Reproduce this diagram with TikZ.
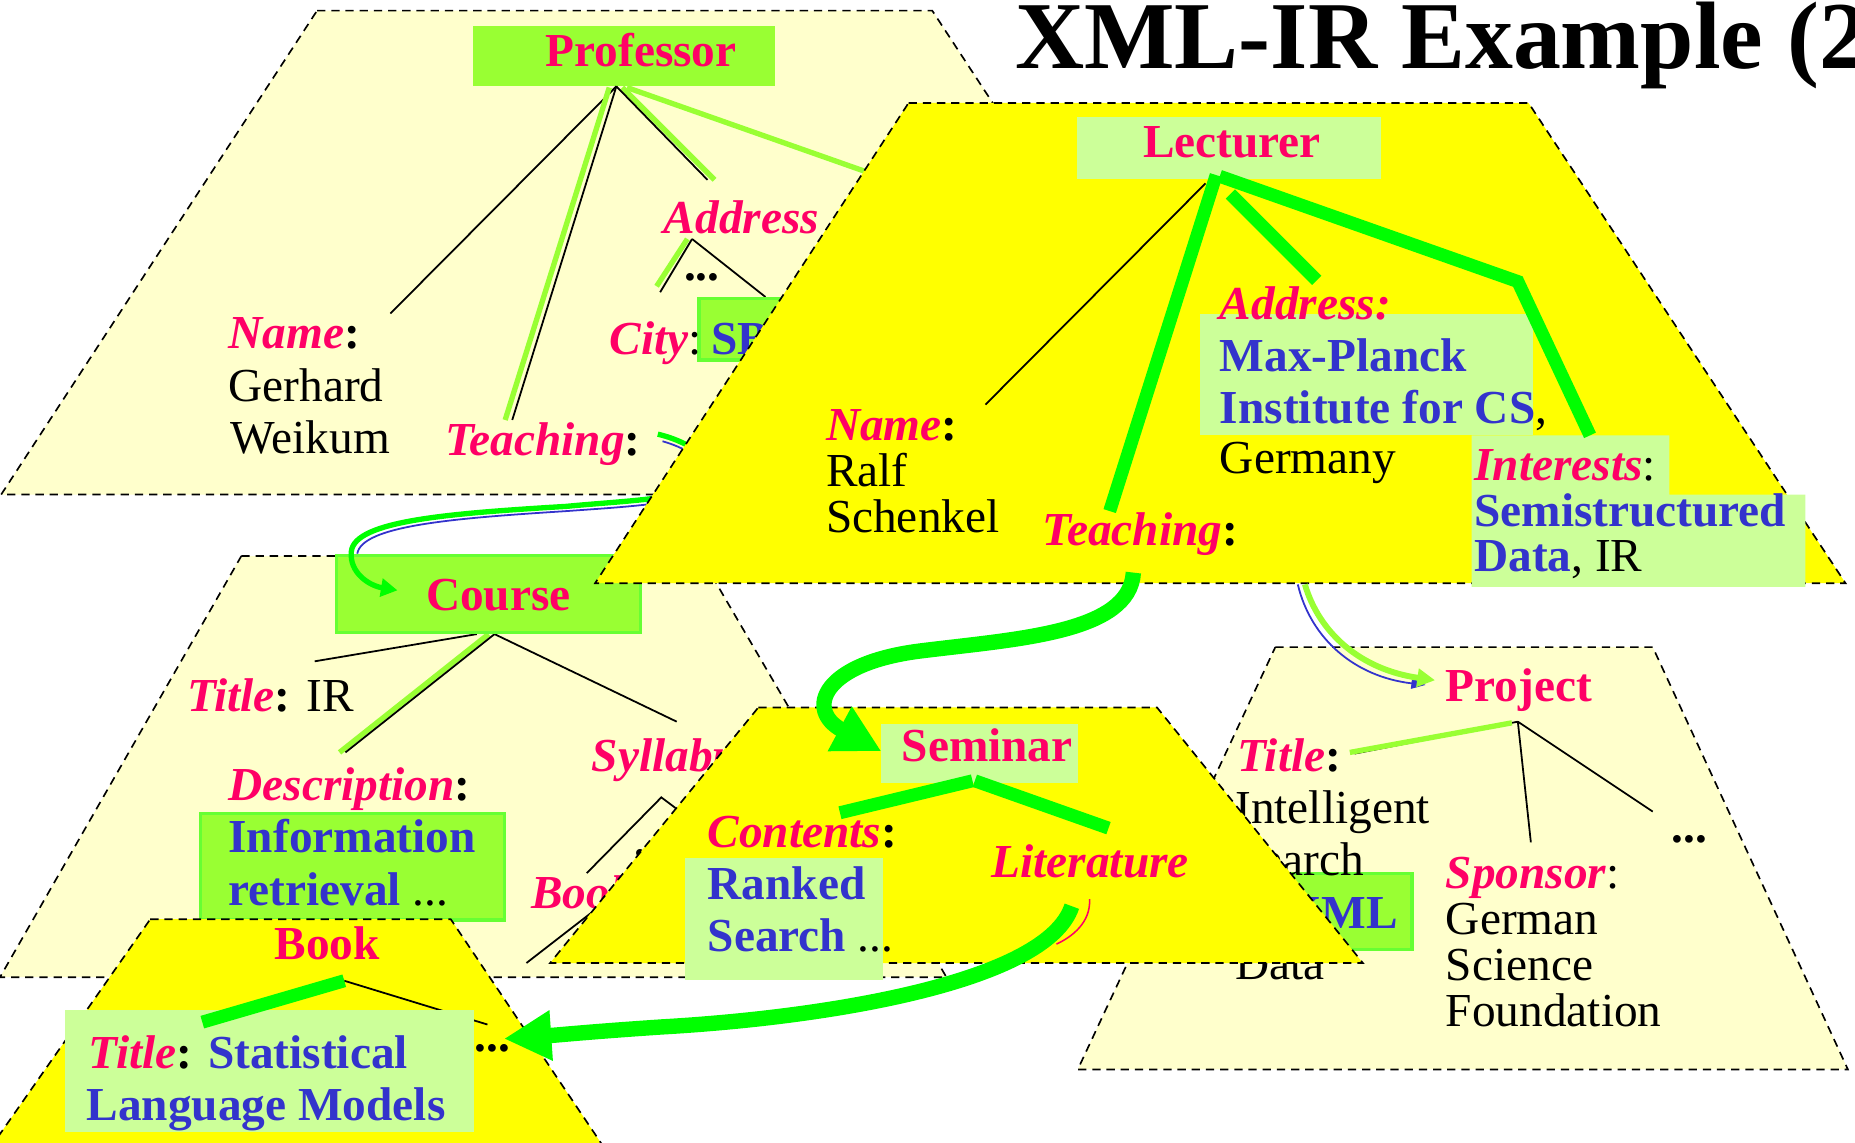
\documentclass[tikz,border=0pt]{standalone}
\usepackage{fontspec}
\setmainfont{Liberation Serif}
\usetikzlibrary{arrows.meta}

\definecolor{palefill}{HTML}{FFFFCC}
\definecolor{brightfill}{HTML}{FFFF00}
\definecolor{limefill}{HTML}{99FF33}
\definecolor{limeedge}{HTML}{66FF33}
\definecolor{vivid}{HTML}{00FF00}
\definecolor{tagred}{HTML}{FF0066}
\definecolor{valblue}{HTML}{3333CC}
\definecolor{meshfill}{HTML}{CCFF99}

\newcommand\tagtxt[1]{\textcolor{tagred}{\bfseries\itshape #1}}
\newcommand\valtxt[1]{\textcolor{valblue}{\bfseries #1}}
\newcommand\nodetitle[1]{\textcolor{tagred}{\bfseries #1}}
\newcommand\colonmark{\textup{\textbf{:}}}

\begin{document}
\begin{tikzpicture}[x=1pt,y=-1pt,
  every node/.style={inner sep=0pt},
  zone/.style={draw=black, line width=1.4pt, dash pattern=on 7pt off 5pt},
  palezone/.style={zone, fill=palefill},
  brightzone/.style={zone, fill=brightfill},
  txt/.style={anchor=base west, font=\fontsize{40}{44}\selectfont},
  limebox/.style={fill=limefill, draw=limeedge, line width=3pt},
  plainlime/.style={fill=limefill},
  meshbox/.style={fill=meshfill},
  thinline/.style={draw=black, line width=1.5pt},
  limeline/.style={draw=limefill, line width=4.5pt},
  vividline/.style={draw=vivid, line width=11pt},
  bigarrow/.style={draw=vivid, line width=13pt, -{Triangle[length=40pt,width=40pt]}},
]
\useasboundingbox (0,0) rectangle (1568,966);
\clip (0,0) rectangle (1568,966);
\fill[white] (0,0) rectangle (1568,966);

% ---------------- Professor ----------------
\draw[palezone] (268,9) -- (788,9) -- (1056,418) -- (1,418) -- cycle;
\node[plainlime, minimum width=255pt, minimum height=51pt] (profbox) at (527.5,47.5) {};
\coordinate (proot) at (521,73);
\coordinate (pnameend) at (330,265);
\coordinate (pteachend) at (433,355);
\coordinate (paddrend) at (598,152);
\coordinate (pfar) at (760,155);
\draw[thinline] (proot) -- (pnameend);
\draw[limeline] (515,74) -- (427,355);
\draw[thinline] (proot) -- (pteachend);
\draw[limeline] (526,74) -- (604,152);
\draw[thinline] (proot) -- (paddrend);
\draw[limeline] (530,74) -- (pfar);
\coordinate (psub) at (585,202);
\draw[limeline] (581,202) -- (555,242);
\draw[thinline] (psub) -- (558,247);
\draw[thinline] (psub) -- (647,251);
\node[limebox, minimum width=70pt, minimum height=52pt] (citybox) at (626,278.5) {};

\node[txt] (profname) at (461,56) {\nodetitle{Professor}};
\node[txt] (pname) at (193,295) {\tagtxt{Name}\colonmark};
\node[txt] (pname1) at (193,339) {Gerhard};
\node[txt] (pname2) at (195,383) {Weikum};
\node[txt] (pteach) at (376,385) {\tagtxt{Teaching}\colonmark};
\node[txt] (paddr) at (561,197) {\tagtxt{Address}};
\node[txt] (pdots) at (578,237) {\textbf{...}};
\node[txt] (pcity) at (515,300) {\tagtxt{City}:};
\node[txt] (pcityval) at (601,300) {\valtxt{SB}};

% ---------------- Course ----------------
\draw[palezone] (204,470) -- (592,470) -- (800,826) -- (0,826) -- cycle;
\coordinate (croot) at (418,536);
\draw[thinline] (403,536) -- (266,559);
\draw[limeline] (413,536) -- (287,636);
\draw[thinline] (croot) -- (292,636);
\draw[thinline] (croot) -- (572,610);
\draw[thinline] (496,738) -- (559,674) -- (571,683);
\draw[thinline] (445,814) -- (525,752);
\node[limebox, minimum width=257pt, minimum height=65pt] (coursebox) at (413,502) {};
\node[limebox, minimum width=257pt, minimum height=90pt] (descbox) at (298,732.5) {};

\node[txt] (coursename) at (360,516) {\nodetitle{Course}};
\node[txt] (ctitle) at (158,601) {\tagtxt{Title}\colonmark{} IR};
\node[txt] (csyll) at (500,652) {\tagtxt{Syllabus}};
\node[txt] (cdesc) at (193,677) {\tagtxt{Description}\colonmark};
\node[txt] (cdesc1) at (193,721) {\valtxt{Information}};
\node[txt] (cdesc2) at (193,765) {\valtxt{retrieval} ...};
\node[txt] (cbook) at (449,768) {\tagtxt{Book}};
\node[txt] (cdots) at (536,724) {\textbf{...}};

% Teaching of the professor -> Course
\draw[draw=valblue, line width=1.5pt]
  (560,373) .. controls (582,379) and (612,396) .. (592,416)
  .. controls (577,426) and (520,429) .. (479,432)
  .. controls (385,438) and (306,444) .. (302,468);
\draw[draw=vivid, line width=4.5pt, -{Triangle[length=14pt,width=15pt]}]
  (556,367) .. controls (578,372) and (616,390) .. (590,412)
  .. controls (575,422) and (520,424) .. (479,428)
  .. controls (380,434) and (300,440) .. (297,466)
  .. controls (295,484) and (312,495) .. (336,499);

% ---------------- Lecturer ----------------
\draw[brightzone] (768,87) -- (1292,87) -- (1560,493) -- (503,493) -- cycle;
\node[meshbox, minimum width=257pt, minimum height=52pt] (lectbox) at (1038.5,125) {};
\node[meshbox, minimum width=282pt, minimum height=103pt] (laddrbox) at (1155,316.5) {};
\fill[meshfill] (1244,368) -- (1411,368) -- (1411,418) -- (1526,418) -- (1526,496) -- (1244,496) -- cycle;
\coordinate (lroot) at (1028,148);
\draw[thinline] (1019,155) -- (833,342);
\draw[vividline] (lroot) -- (938,432);
\draw[vividline] (1040,164) -- (1113,237);
\draw[vividline, line join=miter] (1031,149) -- (1283,238) -- (1344,368);

\node[txt] (lectname) at (966,133) {\nodetitle{Lecturer}};
\node[txt] (lname) at (698,372) {\tagtxt{Name}\colonmark};
\node[txt] (lname1) at (698,411) {Ralf};
\node[txt] (lname2) at (698,450) {Schenkel};
\node[txt] (lteach) at (881,461) {\tagtxt{Teaching}\colonmark};
\node[txt] (laddr) at (1031,270) {\tagtxt{Address:}};
\node[txt] (laddr1) at (1031,314) {\valtxt{Max-Planck}};
\node[txt] (laddr2) at (1031,358) {\valtxt{Institute for CS},};
\node[txt] (laddr3) at (1031,400) {Germany};
\node[txt] (lint) at (1246,406) {\tagtxt{Interests}:};
\node[txt] (lint1) at (1246,445) {\valtxt{Semistructured}};
\node[txt] (lint2) at (1246,483) {\valtxt{Data}, IR};

% ---------------- Project ----------------
\draw[palezone] (1078,547) -- (1397,547) -- (1562,904) -- (911,904) -- cycle;
\coordinate (jroot) at (1283,610);
\draw[thinline] (jroot) -- (1145,637);
\draw[limeline] (1278,611) -- (1141,636);
\draw[thinline] (jroot) -- (1294,712);
\draw[thinline] (jroot) -- (1397,686);
\node[limebox, minimum width=112pt, minimum height=64pt] (xmlbox) at (1137.5,770.5) {};

\node[txt] (projname) at (1222,593) {\nodetitle{Project}};
\node[txt] (jtitle) at (1046,652) {\tagtxt{Title}\colonmark};
\node[txt] (jtitle1) at (1044,696) {Intelligent};
\node[txt] (jtitle2) at (1044,740) {Search};
\node[txt] (jtitle3) at (1088,785) {\valtxt{XML}};
\node[txt] (jtitle4) at (1044,828) {Data};
\node[txt] (jspon) at (1222,751) {\tagtxt{Sponsor}:};
\node[txt] (jspon1) at (1222,790) {German};
\node[txt] (jspon2) at (1222,829) {Science};
\node[txt] (jspon3) at (1222,868) {Foundation};
\node[txt] (jdots) at (1413,712) {\textbf{...}};

% Lecturer -> Project
\draw[draw=valblue, line width=1.5pt, -{Triangle[length=12pt,width=9pt]}]
  (1097,494) .. controls (1108,540) and (1145,572) .. (1205,579);
\draw[draw=limefill, line width=5pt, -{Triangle[length=15pt,width=15pt]}]
  (1103,494) .. controls (1115,535) and (1150,566) .. (1213,575);

% ---------------- Seminar ----------------
\draw[brightzone] (641,598) -- (978,598) -- (1152,814) -- (465,814) -- cycle;
\node[meshbox, minimum width=166pt, minimum height=50pt] (semibox) at (828,637) {};
\node[meshbox, minimum width=167pt, minimum height=103pt] (contbox) at (662.5,776.5) {};
\coordinate (sroot) at (822,660);
\draw[vividline] (710,687) -- (sroot);
\draw[vividline] (824,660) -- (937,700);

\node[txt] (seminame) at (762,644) {\nodetitle{Seminar}};
\node[txt] (scont) at (598,716) {\tagtxt{Contents}\colonmark};
\node[txt] (scont1) at (598,760) {\valtxt{Ranked}};
\node[txt] (scont2) at (598,804) {\valtxt{Search} ...};
\node[txt] (slit) at (838,742) {\tagtxt{Literature}};

% Teaching of the lecturer -> Seminar
\coordinate (lteachfoot) at (958,484);
\draw[bigarrow]
  (lteachfoot) .. controls (955,535) and (860,540) .. (780,550)
  .. controls (695,560) and (680,600) .. (745,635);

% ---------------- Book ----------------
\draw[brightzone] (127,777) -- (381,777) -- (524,990) -- (-22,990) -- cycle;
\coordinate (broot) at (291,829);
\draw[thinline] (broot) -- (412,866);
\node[meshbox, minimum width=346pt, minimum height=103pt] (bookbox) at (228,905.5) {};
\draw[vividline] (171,864) -- (broot);

\node[txt] (bookname) at (232,811) {\nodetitle{Book}};
\node[txt] (btitle) at (75,903) {\tagtxt{Title}\colonmark{} \valtxt{Statistical}};
\node[txt] (btitle1) at (73,947) {\valtxt{Language Models}};
\node[txt] (bdots) at (401,889) {\textbf{...}};

% Literature -> Book
\draw[draw=tagred, line width=1.3pt] (921,760) .. controls (922,780) and (906,792) .. (893,798);
\coordinate (litfoot) at (906,766);
\draw[bigarrow]
  (litfoot) .. controls (885,830) and (700,860) .. (560,868)
  .. controls (500,872) and (470,875) .. (426,878);

% ---------------- Heading ----------------
\node[anchor=base west, font=\fontsize{81}{90}\selectfont\bfseries] (heading) at (858,58) {XML-IR Example (2)};
\end{tikzpicture}
\end{document}
